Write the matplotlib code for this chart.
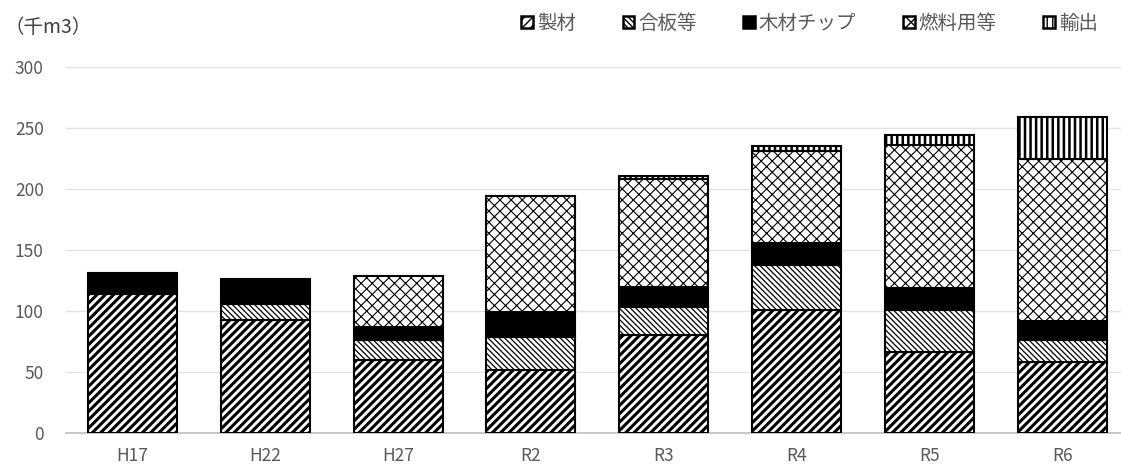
import matplotlib.pyplot as plt
from matplotlib.patches import Patch
import numpy as np

plt.rcParams['font.family'] = ['Noto Sans CJK JP', 'DejaVu Sans']

# 千m3
years = ['H17', 'H22', 'H27', 'R2', 'R3', 'R4', 'R5', 'R6']
seizai = [114, 93, 60, 52, 80, 101, 66, 58]       # 製材
goban = [0, 13, 16, 27, 23, 37, 35, 18]           # 合板等
chip = [17, 20, 11, 20, 17, 18, 18, 16]           # 木材チップ
nenryo = [0, 0, 42, 95, 88, 75, 117, 133]         # 燃料用等
yushutsu = [0, 0, 0, 0, 3, 4, 8, 34]              # 輸出

series = [
    ('製材', seizai, 'white', '////', 2.2),
    ('合板等', goban, 'white', '\\\\\\\\\\\\', 0.9),
    ('木材チップ', chip, 'black', None, 1.0),
    ('燃料用等', nenryo, 'white', 'xxx', 0.8),
    ('輸出', yushutsu, 'white', '|||', 1.8),
]

fig = plt.figure(figsize=(11.21, 4.68), dpi=100)
ax = fig.add_axes([0.0589, 0.0748, 0.948, 0.782])

x = np.arange(len(years))
bottom = np.zeros(len(years))
handles = []
for name, vals, color, hatch, hlw in series:
    vals = np.array(vals, dtype=float)
    bars = ax.bar(x, vals, 0.67, bottom=bottom, color=color, edgecolor='black',
                  linewidth=1.5, hatch=hatch, zorder=3)
    for b in bars:
        b.set_hatch_linewidth(hlw)
        if b.get_height() == 0:
            b.set_visible(False)
    # legend swatch, a bit heavier than the bars like the original
    h = Patch(facecolor=color, edgecolor='black', hatch=hatch, linewidth=1.8)
    h.set_hatch_linewidth(hlw * 1.5)
    handles.append(h)
    bottom += vals

ax.set_xlim(-0.5, len(years) - 0.5)
ax.set_ylim(0, 300)
ax.set_yticks(range(0, 301, 50))
ax.set_xticks(x)
ax.set_xticklabels(years)
ax.tick_params(axis='both', length=0, labelsize=12.5, colors='#595959')
ax.tick_params(axis='y', pad=16)
ax.tick_params(axis='x', pad=10)
ax.grid(axis='y', color='#e3e3e3', linewidth=1, zorder=0)
for side in ['top', 'right', 'left']:
    ax.spines[side].set_visible(False)
ax.spines['bottom'].set_color('#bfbfbf')
ax.spines['bottom'].set_linewidth(1.2)

fig.text(0.004, 0.93, '（千m3）', fontsize=14, color='#404040')

fig.legend(handles=handles, labels=[s[0] for s in series], loc='upper right',
           bbox_to_anchor=(0.995, 1.01), ncol=5, frameon=False, fontsize=14,
           handlelength=0.6, handleheight=0.6, handletextpad=0.2,
           columnspacing=2.4, labelcolor='#595959')

fig.savefig('out.png', dpi=100)
